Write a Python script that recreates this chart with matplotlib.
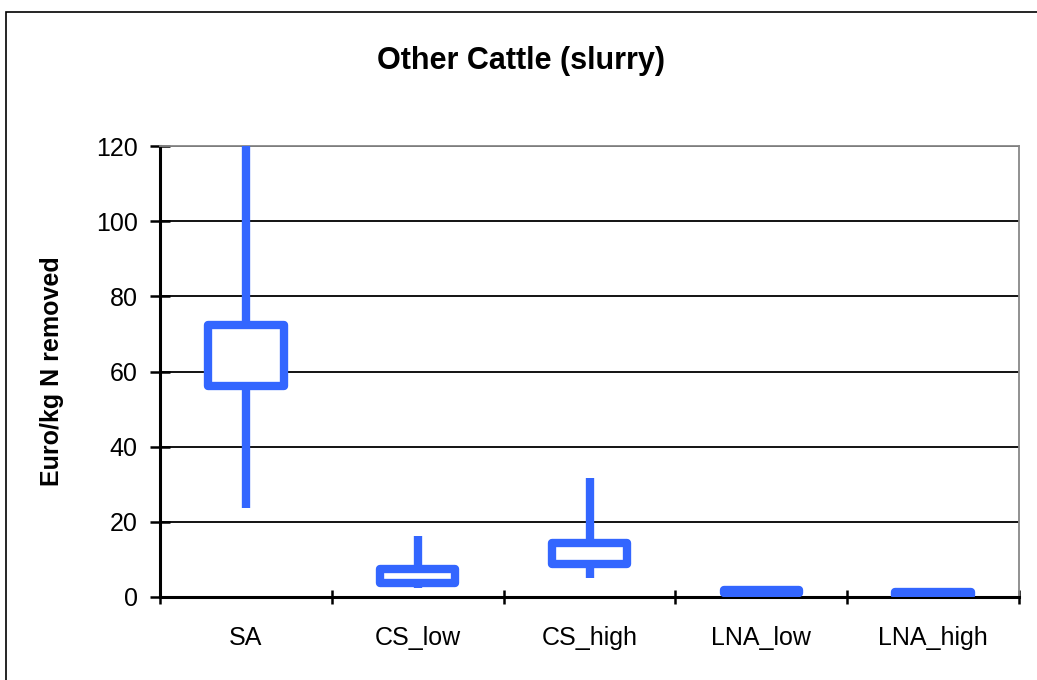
import matplotlib
matplotlib.use("Agg")
import matplotlib.pyplot as plt
from matplotlib.patches import Rectangle

plt.rcParams['font.family'] = ['Liberation Sans', 'DejaVu Sans']

categories = ["SA", "CS_low", "CS_high", "LNA_low", "LNA_high"]
high = [121.0, 16.2, 31.7, 2.5, 1.2]
low = [23.6, 2.4, 5.1, 0.9, 0.6]
box_top = [72.4, 7.4, 14.4, 1.8, 1.2]
box_bottom = [56.1, 3.8, 8.8, 1.1, 0.6]
yticks = [0, 20, 40, 60, 80, 100, 120]

blue = "#3366FF"
fig = plt.figure(figsize=(10.37, 6.80), dpi=100)
ax = fig.add_axes([160/1037, 83/680, 859/1037, 451/680])

# figure border (partially outside image)
fig.patches.append(Rectangle((6/1037, -0.5), 2.0, (680-11.5)/680 + 0.5,
                             transform=fig.transFigure, fill=False,
                             edgecolor='black', linewidth=1.2))

x = list(range(len(categories)))
bw = 0.44
for xi, h, l, bt, bb in zip(x, high, low, box_top, box_bottom):
    ax.vlines(xi, l, h, color=blue, linewidth=6, zorder=3, capstyle='butt')
    ax.add_patch(Rectangle((xi - bw/2, bb), bw, bt - bb, facecolor='white',
                           edgecolor=blue, linewidth=6, joinstyle='round', zorder=4))

ax.set_xlim(-0.5, len(categories) - 0.5)
ax.set_ylim(0, 120)
ax.set_yticks(yticks)
ax.set_yticklabels([str(t) for t in yticks], fontsize=18)
ax.set_xticks(x)
ax.set_xticklabels(categories, fontsize=18)
ax.tick_params(axis='x', which='major', length=0, pad=21)
ax.set_xticks([i - 0.5 for i in range(len(categories) + 1)], minor=True)
ax.tick_params(axis='x', which='minor', direction='inout', length=10, width=1.8)
ax.tick_params(axis='y', direction='inout', length=14, width=1.8, pad=9)

ax.grid(axis='y', color='black', linewidth=1.3, zorder=1)
ax.set_axisbelow(True)
for s in ['left', 'bottom']:
    ax.spines[s].set_linewidth(2.2)
    ax.spines[s].set_color('black')
for s in ['top', 'right']:
    ax.spines[s].set_linewidth(1.3)
    ax.spines[s].set_color('#888888')

ax.set_ylabel("Euro/kg N removed", fontsize=18, fontweight='bold', labelpad=23)
fig.text(521/1037, 1 - 61/680, "Other Cattle (slurry)", ha='center', va='center',
         fontsize=22, fontweight='bold')

fig.savefig("out.png", dpi=100)
